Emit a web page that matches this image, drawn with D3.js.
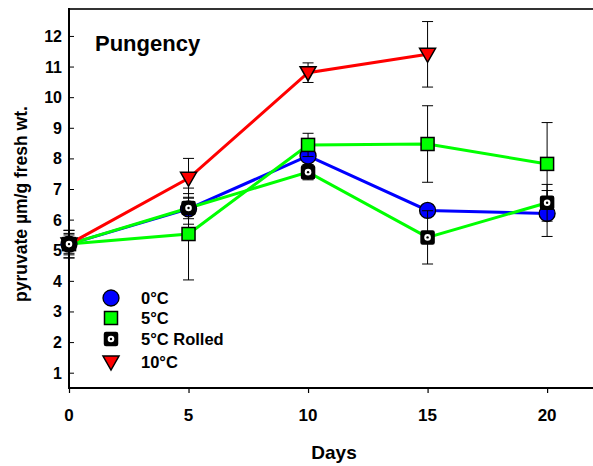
<!DOCTYPE html>
<html><head><meta charset="utf-8">
<script src="https://cdn.jsdelivr.net/npm/d3@7"></script>
<style>body{margin:0;background:#fff}svg{display:block}text{font-family:"Liberation Sans",Arial,sans-serif;font-weight:bold;fill:#000}</style>
</head><body><svg id="c" width="593" height="466"></svg>
<script>
const days = [0, 5, 10, 15, 20];
const yTicks = [1,2,3,4,5,6,7,8,9,10,11,12];
const xTicks = [0,5,10,15,20];
const seriesNames = ["0°C", "5°C", "5°C Rolled", "10°C"];
const vals0C      = [5.2, 6.35, 8.08, 6.3, 6.2];
const err0C       = [0.45, 0.5, 0.3, 0.2, 0.75];
const vals5C      = [5.2, 5.53, 8.44, 8.47, 7.82];
const err5C       = [0.35, 1.5, 0.38, 1.25, 1.35];
const valsRolled  = [5.2, 6.38, 7.55, 5.42, 6.55];
const errRolled   = [0.3, 0.35, 0.25, 0.87, 0.6];
const vals10C     = [5.2, 7.35, 10.8, 11.4];
const err10C      = [0.45, 0.65, 0.32, 1.07];

const svg = d3.select("#c");
const x = d3.scaleLinear().domain([0, 21.92]).range([69, 593]);
const y = d3.scaleLinear().domain([0.5, 12.88]).range([388, 9]);

const series = [
  {name: seriesNames[0], v: vals0C, e: err0C, color: "#0000ff", shape: "circle"},
  {name: seriesNames[1], v: vals5C, e: err5C, color: "#00ff00", shape: "square"},
  {name: seriesNames[2], v: valsRolled, e: errRolled, color: "#00ff00", shape: "rolled"},
  {name: seriesNames[3], v: vals10C, e: err10C, color: "#ff0000", shape: "tri"}
];

// frame top
svg.append("line").attr("x1", 69).attr("x2", 593).attr("y1", 9).attr("y2", 9)
  .attr("stroke", "#333").attr("stroke-width", 2);

// axes
const yAxis = d3.axisRight(y).tickValues(yTicks).tickSize(5).tickFormat("");
svg.append("g").attr("transform", "translate(69,0)").call(yAxis)
  .call(g => { g.select(".domain").remove(); g.selectAll("line").attr("stroke", "#000").attr("stroke-width", 1); });
svg.append("g").selectAll("text").data(yTicks).join("text")
  .attr("x", 62).attr("y", d => y(d) + 6).attr("text-anchor", "end").attr("font-size", 16).text(d => d);

const xAxis = d3.axisBottom(x).tickValues(xTicks).tickSize(5).tickFormat("");
svg.append("g").attr("transform", "translate(0,388)").call(xAxis)
  .call(g => { g.select(".domain").remove(); g.selectAll("line").attr("stroke", "#000").attr("stroke-width", 1.2); });
svg.append("g").selectAll("text").data(xTicks).join("text")
  .attr("x", d => x(d)).attr("y", 421).attr("text-anchor", "middle").attr("font-size", 17).text(d => d);

svg.append("line").attr("x1", 69).attr("x2", 69).attr("y1", 8).attr("y2", 389).attr("stroke", "#000").attr("stroke-width", 2);
svg.append("line").attr("x1", 68).attr("x2", 593).attr("y1", 388).attr("y2", 388).attr("stroke", "#000").attr("stroke-width", 2);

svg.append("text").attr("x", 334).attr("y", 459).attr("text-anchor", "middle").attr("font-size", 19).text("Days");
svg.append("text").attr("transform", "translate(27,204) rotate(-90)").attr("text-anchor", "middle")
  .attr("font-size", 17.5).text("pyruvate µm/g fresh wt.");
svg.append("text").attr("x", 95).attr("y", 51).attr("font-size", 22).text("Pungency");

// lines
const line = d3.line().x((d, i) => x(days[i])).y(d => y(d));
series.forEach(s => {
  svg.append("path").attr("d", line(s.v)).attr("fill", "none").attr("stroke", s.color).attr("stroke-width", 3);
});

function marker(g, s, cx, cy) {
  if (s.shape === "circle") {
    g.append("circle").attr("cx", cx).attr("cy", cy).attr("r", 8).attr("fill", s.color).attr("stroke", "#000").attr("stroke-width", 1.3);
  } else if (s.shape === "square") {
    g.append("rect").attr("x", cx - 6.5).attr("y", cy - 6.5).attr("width", 13).attr("height", 13).attr("fill", s.color).attr("stroke", "#000").attr("stroke-width", 1.5);
  } else if (s.shape === "rolled") {
    g.append("rect").attr("x", cx - 6.5).attr("y", cy - 6.5).attr("width", 13).attr("height", 13).attr("rx", 1.5).attr("fill", "#000").attr("stroke", "#000").attr("stroke-width", 1.5);
    g.append("circle").attr("cx", cx).attr("cy", cy).attr("r", 3.3).attr("fill", "#fff");
    g.append("circle").attr("cx", cx).attr("cy", cy).attr("r", 1.2).attr("fill", "#000");
  } else {
    g.append("path").attr("d", `M${cx-8},${cy-6}L${cx+8},${cy-6}L${cx},${cy+8}Z`).attr("fill", s.color).attr("stroke", "#000").attr("stroke-width", 1.5);
  }
}

// error bars + markers (rolled drawn last, as in reference)
const drawOrder = [0, 1, 3, 2];
drawOrder.forEach(k => {
  const s = series[k];
  const g = svg.append("g");
  s.v.forEach((v, i) => {
    const cx = x(days[i]);
    const hi = y(v + s.e[i]), lo = y(v - s.e[i]);
    g.append("line").attr("x1", cx).attr("x2", cx).attr("y1", hi).attr("y2", lo).attr("stroke", "#000").attr("stroke-width", 1);
    [hi, lo].forEach(yy => g.append("line").attr("x1", cx - 5.5).attr("x2", cx + 5.5).attr("y1", yy).attr("y2", yy).attr("stroke", "#000").attr("stroke-width", 1));
  });
  s.v.forEach((v, i) => marker(g, s, x(days[i]), y(v)));
});

// legend
const ly = [298, 318, 339, 362];
series.forEach((s, i) => {
  const g = svg.append("g");
  marker(g, s, 111, ly[i]);
  g.append("text").attr("x", 141).attr("y", ly[i] + 6).attr("font-size", 16.5).text(s.name);
});
</script></body></html>
